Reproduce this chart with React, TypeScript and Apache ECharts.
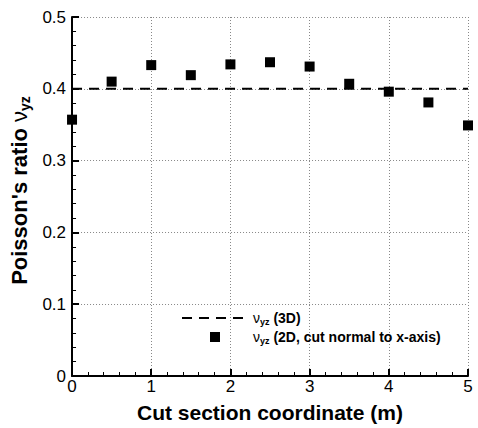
import React, { useEffect, useRef } from "react";
import * as echarts from "echarts";

const positions2D = [0, 0.5, 1, 1.5, 2, 2.5, 3, 3.5, 4, 4.5, 5];
const ratios2D = [0.357, 0.41, 0.433, 0.419, 0.434, 0.437, 0.431, 0.407, 0.396, 0.381, 0.349];
const positions3D = [0, 5];
const ratios3D = [0.4, 0.4];
const xTicks = [0, 1, 2, 3, 4, 5];
const yTicks = [0, 0.1, 0.2, 0.3, 0.4, 0.5];

const FONT = "Liberation Sans, Arial, sans-serif";

export default function App() {
  const ref = useRef<HTMLDivElement>(null);
  useEffect(() => {
    if (!ref.current) return;
    const chart = echarts.init(ref.current, null, { renderer: "svg" });
    const subRich = {
      v: { fontFamily: FONT, fontWeight: "normal", fontSize: 14, color: "#000" },
      s: { fontFamily: FONT, fontWeight: "bold", fontSize: 9, color: "#000", padding: [7, 0, 0, 0] },
      t: { fontFamily: FONT, fontWeight: "bold", fontSize: 14, color: "#000" },
    };
    chart.setOption({
      animation: false,
      backgroundColor: "#fff",
      grid: { left: 70, right: 10, top: 17, bottom: 51, containLabel: false },
      legend: {
        left: 176,
        top: 306,
        orient: "vertical",
        itemWidth: 66,
        itemHeight: 10,
        itemGap: 4,
        symbolKeepAspect: true,
        data: [
          { name: "3D", itemStyle: { color: "rgba(0,0,0,0)", borderWidth: 0 } },
          { name: "2D", icon: "path://M0,0H10V10H0Z", itemStyle: { color: "#000", opacity: 1 } },
        ],
        formatter: (name: string) =>
          name === "3D"
            ? "{v|ν}{s|yz}{t| (3D)}"
            : "{v|ν}{s|yz}{t| (2D, cut normal to x-axis)}",
        textStyle: { rich: subRich, fontFamily: FONT, fontWeight: "bold", fontSize: 14 },
      },
      xAxis: {
        type: "value",
        min: xTicks[0],
        max: xTicks[xTicks.length - 1],
        interval: 1,
        name: "Cut section coordinate (m)",
        nameLocation: "middle",
        nameGap: 26,
        nameTextStyle: { fontFamily: FONT, fontWeight: "bold", fontSize: 21, color: "#000" },
        axisLine: { lineStyle: { color: "#000", width: 2 } },
        axisTick: { inside: true, length: 7, lineStyle: { color: "#000", width: 2 } },
        minorTick: { show: true, splitNumber: 5, length: 4, lineStyle: { color: "#000", width: 1 } },
        axisLabel: { fontFamily: FONT, fontSize: 17, color: "#000", margin: 2 },
        splitLine: { show: true, lineStyle: { color: "#888", type: [1, 2], width: 1 } },
      },
      yAxis: {
        type: "value",
        min: yTicks[0],
        max: yTicks[yTicks.length - 1],
        interval: 0.1,
        name: "Poisson's ratio {v|ν}{s|yz}",
        nameLocation: "middle",
        nameGap: 38,
        nameRotate: 90,
        nameTextStyle: {
          fontFamily: FONT,
          fontWeight: "bold",
          fontSize: 22,
          color: "#000",
          padding: [0, 0, 0, 12],
          rich: {
            v: { fontFamily: FONT, fontWeight: "normal", fontSize: 22, color: "#000" },
            s: { fontFamily: FONT, fontWeight: "bold", fontSize: 14, color: "#000", padding: [11, 0, 0, 0] },
          },
        },
        axisLine: { lineStyle: { color: "#000", width: 2 } },
        axisTick: { inside: true, length: 7, lineStyle: { color: "#000", width: 2 } },
        minorTick: { show: true, splitNumber: 5, length: 4, lineStyle: { color: "#000", width: 1 } },
        axisLabel: { fontFamily: FONT, fontSize: 17, color: "#000", margin: 6 },
        splitLine: { show: true, lineStyle: { color: "#888", type: [1, 2], width: 1 } },
      },
      series: [
        {
          name: "3D",
          type: "line",
          data: positions3D.map((x, i) => [x, ratios3D[i]]),
          showSymbol: false,
          symbol: "none",
          lineStyle: { color: "#000", width: 2, type: [10, 7] },
          itemStyle: { color: "#000" },
          z: 3,
        },
        {
          name: "2D",
          type: "scatter",
          data: positions2D.map((x, i) => [x, ratios2D[i]]),
          symbol: "rect",
          symbolSize: 10,
          itemStyle: { color: "#000", opacity: 1 },
          z: 4,
        },
      ],
    });
    return () => chart.dispose();
  }, []);
  return (
    <div
      ref={ref}
      style={{ position: "fixed", left: 0, top: 0, width: 478, height: 428, background: "#fff" }}
    />
  );
}
